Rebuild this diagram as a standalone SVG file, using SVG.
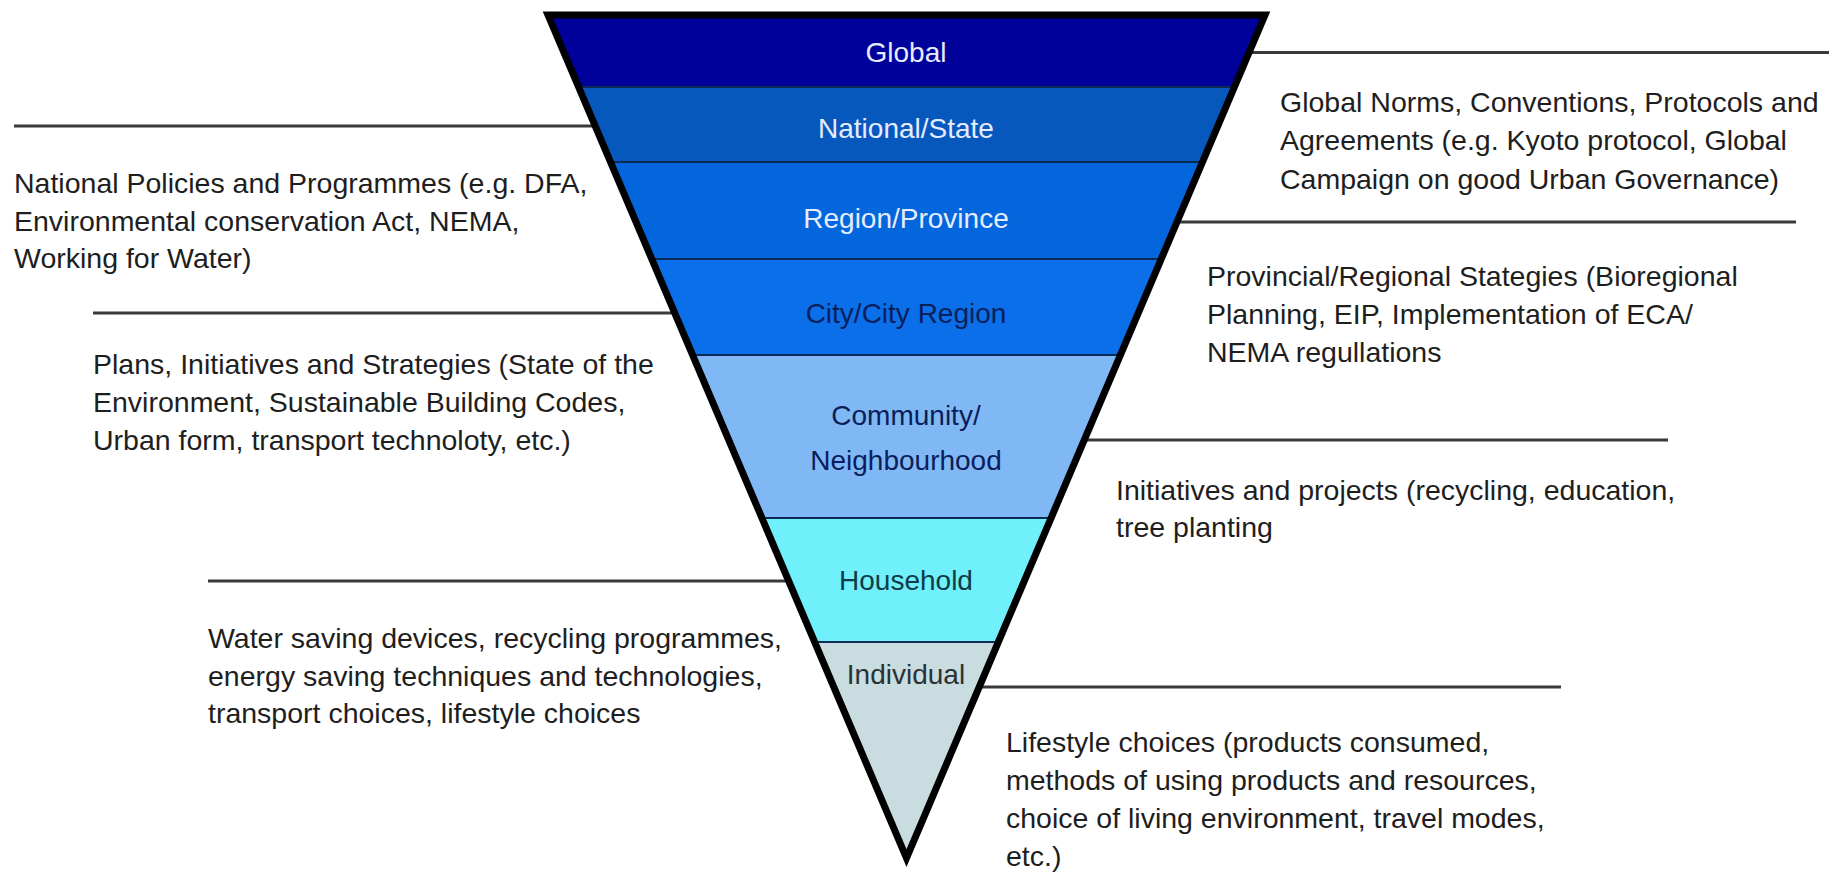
<svg xmlns="http://www.w3.org/2000/svg" width="1829" height="873" viewBox="0 0 1829 873">
<style>
.t{font-family:"Liberation Sans",Arial,sans-serif;font-size:28.5px;fill:#1e1e1e}
.lb{font-family:"Liberation Sans",Arial,sans-serif;font-size:28px;text-anchor:middle}
.lt{fill:#e6ecff}
.dk{fill:#0a1e5a}
.sep{stroke:#0b2a55;stroke-width:2}
.ln{stroke:#3a3a3a;stroke-width:3;fill:none}
</style>
<rect width="1829" height="873" fill="#ffffff"/>
<g id="connectors">
<line class="ln" x1="14" y1="126" x2="596" y2="126"/>
<line class="ln" x1="93" y1="313" x2="676" y2="313"/>
<line class="ln" x1="208" y1="581" x2="790" y2="581"/>
<line class="ln" x1="1248" y1="52.5" x2="1829" y2="52.5"/>
<line class="ln" x1="1176" y1="222" x2="1796" y2="222"/>
<line class="ln" x1="1083" y1="440" x2="1668" y2="440"/>
<line class="ln" x1="978" y1="687" x2="1561" y2="687"/>
</g>
<g id="band-global">
<polygon points="548,15 1265,15 1234.4,87 578.6,87" fill="#00009a"/>
<text class="lb lt" x="906" y="62">Global</text>
</g>
<g id="band-national">
<polygon points="578.6,87 1234.4,87 1202.5,162 610.5,162" fill="#0758bd"/>
<text class="lb lt" x="906" y="138">National/State</text>
</g>
<g id="band-region">
<polygon points="610.5,162 1202.5,162 1161.2,259 651.8,259" fill="#0366dc"/>
<text class="lb lt" x="906" y="228">Region/Province</text>
</g>
<g id="band-city">
<polygon points="651.8,259 1161.2,259 1120.4,355 692.6,355" fill="#0a6fe8"/>
<text class="lb dk" x="906" y="323">City/City Region</text>
</g>
<g id="band-community">
<polygon points="692.6,355 1120.4,355 1051.1,518 761.9,518" fill="#80b8f6"/>
<text class="lb dk" x="906" y="425">Community/</text>
<text class="lb dk" x="906" y="470">Neighbourhood</text>
</g>
<g id="band-household">
<polygon points="761.9,518 1051.1,518 998.4,642 814.6,642" fill="#6ff0fb"/>
<text class="lb" x="906" y="590" fill="#0f3c48">Household</text>
</g>
<g id="band-individual">
<polygon points="814.6,642 998.4,642 906.5,858" fill="#c9dcdf"/>
<text class="lb" x="906" y="684" fill="#2a3236">Individual</text>
</g>
<g id="separators">
<line class="sep" x1="578.6" y1="87" x2="1234.4" y2="87"/>
<line class="sep" x1="610.5" y1="162" x2="1202.5" y2="162"/>
<line class="sep" x1="651.8" y1="259" x2="1161.2" y2="259"/>
<line class="sep" x1="692.6" y1="355" x2="1120.4" y2="355"/>
<line class="sep" x1="761.9" y1="518" x2="1051.1" y2="518"/>
<line class="sep" x1="814.6" y1="642" x2="998.4" y2="642"/>
</g>
<g id="triangle-outline">
<polygon points="548,15 1265,15 906.5,858" fill="none" stroke="#000000" stroke-width="7" stroke-linejoin="miter" stroke-miterlimit="10"/>
</g>
<g id="text-national-policies">
<text class="t" x="14" y="193">National Policies and Programmes (e.g. DFA,</text>
<text class="t" x="14" y="231">Environmental conservation Act, NEMA,</text>
<text class="t" x="14" y="268">Working for Water)</text>
</g>
<g id="text-plans">
<text class="t" x="93" y="374">Plans, Initiatives and Strategies (State of the</text>
<text class="t" x="93" y="412">Environment, Sustainable Building Codes,</text>
<text class="t" x="93" y="450">Urban form, transport technoloty, etc.)</text>
</g>
<g id="text-water">
<text class="t" x="208" y="648">Water saving devices, recycling programmes,</text>
<text class="t" x="208" y="686">energy saving techniques and technologies,</text>
<text class="t" x="208" y="723">transport choices, lifestyle choices</text>
</g>
<g id="text-global-norms">
<text class="t" x="1280" y="112">Global Norms, Conventions, Protocols and</text>
<text class="t" x="1280" y="150">Agreements (e.g. Kyoto protocol, Global</text>
<text class="t" x="1280" y="189">Campaign on good Urban Governance)</text>
</g>
<g id="text-provincial">
<text class="t" x="1207" y="286">Provincial/Regional Stategies (Bioregional</text>
<text class="t" x="1207" y="324">Planning, EIP, Implementation of ECA/</text>
<text class="t" x="1207" y="362">NEMA regullations</text>
</g>
<g id="text-initiatives">
<text class="t" x="1116" y="500">Initiatives and projects (recycling, education,</text>
<text class="t" x="1116" y="537">tree planting</text>
</g>
<g id="text-lifestyle">
<text class="t" x="1006" y="752">Lifestyle choices (products consumed,</text>
<text class="t" x="1006" y="790">methods of using products and resources,</text>
<text class="t" x="1006" y="828">choice of living environment, travel modes,</text>
<text class="t" x="1006" y="866">etc.)</text>
</g>
</svg>
